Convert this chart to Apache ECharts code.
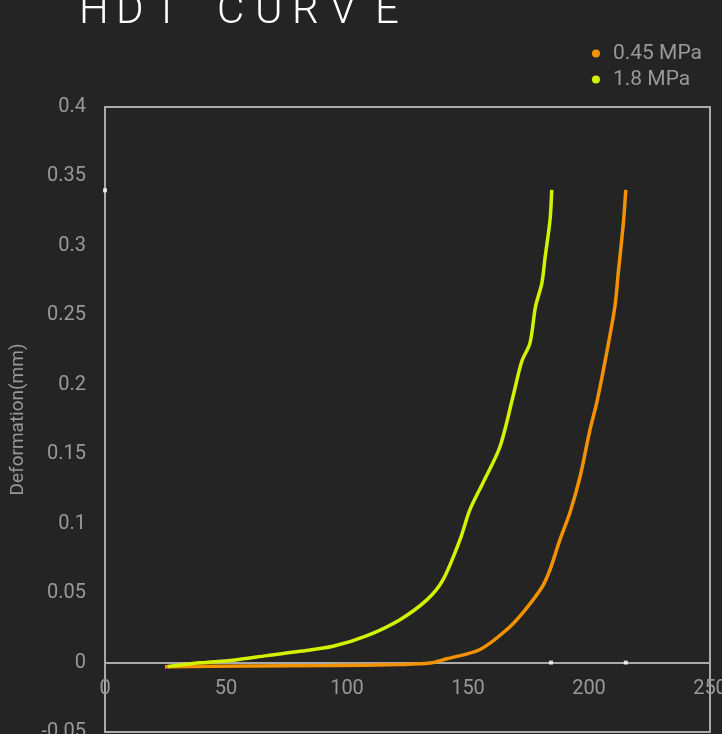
<!DOCTYPE html>
<html>
<head>
<meta charset="utf-8">
<script src="https://cdn.jsdelivr.net/npm/echarts@6/dist/echarts.min.js"></script>
<style>
html,body{margin:0;padding:0;background:#242424;}
#c{width:722px;height:734px;}
</style>
</head>
<body>
<div id="c"></div>
<script>
var seriesNames = ['0.45 MPa', '1.8 MPa'];
var xTicks = [0, 50, 100, 150, 200, 250];
var yTicks = [-0.05, 0, 0.05, 0.1, 0.15, 0.2, 0.25, 0.3, 0.35, 0.4];
var titleLetters = ['H', 'D', 'T', 'C', 'U', 'R', 'V', 'E'];

var data045 = [
  [24.8, -0.0031], [59.9, -0.0025], [93, -0.0022], [121.9, -0.0014], [134.3, -0.0004],
  [141.2, 0.0027], [155.0, 0.0094], [166.0, 0.0237], [172.7, 0.0360], [180.5, 0.0540],
  [183.9, 0.0669], [188.0, 0.0885], [192.1, 0.1079], [196.3, 0.1338], [200.4, 0.1676],
  [203.2, 0.1871], [207.3, 0.2230], [210.7, 0.2563], [212.0, 0.2790],
  [214.2, 0.3165], [215.2, 0.3403]
];
var data18 = [
  [26.0, -0.0029], [39.3, -0.0002], [52.9, 0.0017], [66.9, 0.0050], [80.6, 0.0081],
  [94.2, 0.0117], [108.3, 0.0194], [121.9, 0.0309], [133.1, 0.0453], [139.7, 0.0597],
  [146.7, 0.0885], [150.8, 0.1101], [156.2, 0.1295], [163.2, 0.1554], [168.6, 0.1916],
  [172.2, 0.2168], [175.6, 0.2300], [177.9, 0.2563], [180.5, 0.2730], [181.9, 0.2923],
  [183.9, 0.3187], [184.6, 0.3403]
];
var markers = [[184.3, 0], [215.2, 0], [0, 0.34]];

var letterWidths = [37, 38, 63, 38, 37, 38, 45, 30];
var rich = {};
var titleText = '';
titleLetters.forEach(function (ch, i) {
  rich['l' + i] = { width: letterWidths[i], align: 'left', color: '#ffffff', fontSize: 42, fontWeight: 300, fontFamily: 'Roboto' };
  titleText += '{l' + i + '|' + ch + '}';
});

var chartH = 734, gridTop = 107, gridBottom = 2;
var yMin = yTicks[0], yMax = yTicks[yTicks.length - 1];
var zeroOffset = -(chartH - gridTop - gridBottom) * (0 - yMin) / (yMax - yMin);

var chart = echarts.init(document.getElementById('c'));
chart.setOption({
  backgroundColor: '#242424',
  animation: false,
  title: {
    text: titleText,
    left: 74,
    top: -14,
    textStyle: { color: '#ffffff', fontSize: 42, fontWeight: 300, fontFamily: 'Roboto', rich: rich }
  },
  legend: {
    orient: 'vertical',
    right: 15,
    top: 38,
    icon: 'circle',
    itemWidth: 24,
    itemHeight: 8,
    itemGap: 5,
    data: seriesNames,
    textStyle: { color: '#999999', fontSize: 21, fontFamily: 'Roboto' }
  },
  grid: {
    left: 105, right: 12, top: gridTop, bottom: gridBottom,
    show: true, borderColor: '#aaaaaa', borderWidth: 2,
    containLabel: false,
    outerBoundsMode: 'none'
  },
  xAxis: {
    type: 'value', min: xTicks[0], max: xTicks[xTicks.length - 1], interval: 50,
    offset: zeroOffset,
    axisLine: { onZero: false, lineStyle: { color: '#aaaaaa', width: 2 } },
    axisTick: { show: false },
    splitLine: { show: false },
    axisLabel: { color: '#999999', fontSize: 20, margin: 16, fontFamily: 'Roboto' }
  },
  yAxis: {
    type: 'value', min: yMin, max: yMax, interval: 0.05,
    name: 'Deformation(mm)', nameLocation: 'middle', nameGap: 77,
    nameTextStyle: { color: '#999999', fontSize: 19, fontFamily: 'Roboto' },
    axisLine: { show: true, lineStyle: { color: '#aaaaaa', width: 2 } },
    axisTick: { show: false },
    splitLine: { show: false },
    axisLabel: { color: '#999999', fontSize: 20, margin: 19, fontFamily: 'Roboto' }
  },
  series: [
    {
      name: seriesNames[0], type: 'line', data: data045, smooth: 0.3,
      showSymbol: false, symbol: 'none',
      lineStyle: { color: '#f39200', width: 3.5 }, itemStyle: { color: '#f39200' }
    },
    {
      name: seriesNames[1], type: 'line', data: data18, smooth: 0.3,
      showSymbol: false, symbol: 'none',
      lineStyle: { color: '#d4f200', width: 3.5 }, itemStyle: { color: '#d4f200' }
    },
    {
      name: 'markers', type: 'scatter', data: markers, symbol: 'rect', symbolSize: 4,
      itemStyle: { color: '#ffffff' }, z: 5, silent: true
    }
  ]
});
</script>
</body>
</html>
